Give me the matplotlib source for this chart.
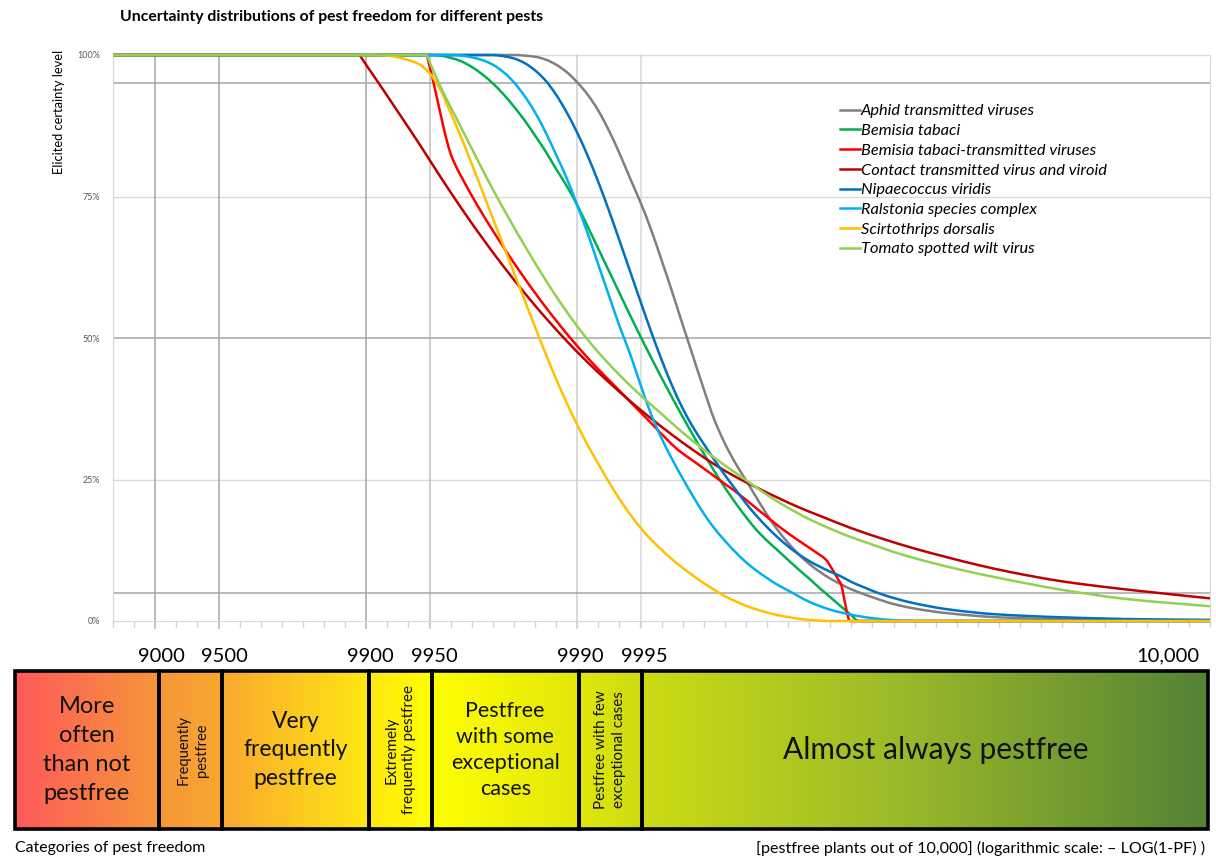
import numpy as np
import matplotlib
matplotlib.use("Agg")
import matplotlib.pyplot as plt
from matplotlib.patches import Rectangle, PathPatch
from matplotlib.path import Path
from matplotlib.lines import Line2D
from matplotlib.colors import to_rgb
from matplotlib.transforms import blended_transform_factory

plt.rcParams['font.family'] = ['Lato', 'DejaVu Sans']

# x values: decades of -log10(1 - PF); y values: elicited certainty in percent
aphid_x = [0.8, 2.70, 2.80, 2.85, 2.90, 2.95, 3.00, 3.05, 3.10, 3.15, 3.20, 3.25, 3.30, 3.35, 3.40,
           3.45, 3.50, 3.55, 3.60, 3.65, 3.70, 3.75, 3.80, 3.85, 3.90, 3.95, 4.00, 4.05, 4.10, 4.15,
           4.20, 4.30, 4.40, 4.50, 4.60, 4.75, 5.00, 5.30, 6.0]
aphid_y = [100, 100, 99.7, 99.2, 98.3, 97.0, 95.2, 93.0, 90.2, 86.7, 82.7, 78.3, 74.0, 69.2, 63.8,
           58.2, 52.4, 46.7, 41.0, 35.6, 31.4, 27.9, 24.9, 21.8, 18.8, 16.1, 13.8, 11.8, 10.1, 8.7,
           7.5, 5.6, 4.2, 3.0, 2.2, 1.4, 0.65, 0.3, 0.1]

btabaci_x = [0.8, 2.30, 2.35, 2.40, 2.45, 2.50, 2.55, 2.60, 2.65, 2.70, 2.75, 2.80, 2.85, 2.90, 2.95,
             3.00, 3.05, 3.10, 3.15, 3.20, 3.25, 3.30, 3.35, 3.40, 3.45, 3.50, 3.55, 3.60, 3.65, 3.70,
             3.75, 3.80, 3.85, 3.90, 3.95, 4.00, 4.05, 4.10, 4.15, 4.20, 4.25, 4.30, 4.335, 6.0]
btabaci_y = [100, 100, 99.9, 99.5, 98.9, 97.9, 96.6, 95.0, 93.1, 90.9, 88.5, 85.8, 83.0, 79.9, 76.9,
             73.5, 69.7, 65.8, 61.9, 58.0, 54.1, 50.3, 46.6, 43.0, 39.5, 36.1, 32.8, 29.6, 26.5, 23.6,
             20.9, 18.4, 16.1, 14.2, 12.5, 10.8, 9.1, 7.5, 5.8, 4.2, 2.6, 1.0, 0, 0]

btv_x = [0.8, 2.287, 2.292, 2.32, 2.35, 2.38, 2.40, 2.43, 2.46, 2.50, 2.55, 2.60, 2.65, 2.70, 2.75,
         2.80, 2.85, 2.90, 2.95, 3.00, 3.05, 3.10, 3.15, 3.20, 3.25, 3.30, 3.35, 3.42, 3.476, 3.55,
         3.65, 3.705, 3.75, 3.85, 3.91, 3.957, 4.05, 4.13, 4.18, 4.21, 4.24, 4.25, 4.27, 4.288, 4.29, 6.0]
btv_y = [100, 100, 99.3, 95.0, 90.0, 85.2, 82.6, 80.0, 77.9, 75.2, 72.0, 69.0, 66.1, 63.3, 60.6,
         58.0, 55.5, 53.1, 50.8, 48.6, 46.5, 44.5, 42.6, 40.7, 38.8, 36.9, 35.0, 32.3, 30.3, 28.3,
         25.6, 24.1, 22.9, 19.9, 18.1, 16.7, 14.2, 12.2, 10.8, 9.1, 7.2, 6.6, 3.2, 0.2, 0, 0]

contact_x = [0.8, 1.969, 1.975, 2.06, 2.15, 2.25, 2.35, 2.45, 2.55, 2.65, 2.75, 2.85, 2.95, 3.05,
             3.15, 3.25, 3.35, 3.45, 3.55, 3.65, 3.75, 3.85, 3.95, 4.05, 4.15, 4.30, 4.45, 4.60,
             4.75, 4.90, 5.06, 5.30, 5.55, 5.77, 6.0]
contact_y = [100, 100, 99.65, 95.0, 90.0, 84.4, 78.6, 73.0, 67.7, 62.7, 58.0, 53.6, 49.5, 45.7,
             42.2, 38.9, 35.8, 32.9, 30.2, 27.7, 25.5, 23.6, 21.8, 20.1, 18.6, 16.4, 14.5, 12.8,
             11.3, 9.9, 8.6, 7.0, 5.8, 4.9, 4.0]

nipa_x = [0.8, 2.60, 2.65, 2.70, 2.75, 2.80, 2.85, 2.90, 2.95, 3.00, 3.05, 3.10, 3.15, 3.20, 3.25,
          3.30, 3.35, 3.40, 3.45, 3.50, 3.55, 3.60, 3.65, 3.70, 3.75, 3.80, 3.85, 3.90, 3.95, 4.00,
          4.05, 4.10, 4.15, 4.20, 4.25, 4.30, 4.37, 4.43, 4.526, 4.59, 4.75, 4.98, 5.30, 5.69, 6.0]
nipa_y = [100, 100, 99.8, 99.4, 98.6, 97.3, 95.5, 93.0, 89.9, 86.3, 82.2, 77.6, 72.6, 67.3, 61.9,
          56.5, 51.2, 46.2, 41.6, 37.6, 34.2, 31.3, 28.5, 25.8, 23.3, 20.8, 18.6, 16.6, 14.8, 13.2,
          11.8, 10.6, 9.6, 8.7, 7.9, 6.9, 5.8, 4.9, 3.8, 3.2, 2.1, 1.2, 0.65, 0.3, 0.2]

ralstonia_x = [0.8, 2.40, 2.45, 2.50, 2.55, 2.60, 2.65, 2.70, 2.75, 2.80, 2.85, 2.90, 2.95, 3.00,
               3.05, 3.10, 3.15, 3.20, 3.25, 3.30, 3.35, 3.40, 3.45, 3.50, 3.55, 3.60, 3.65, 3.70,
               3.75, 3.80, 3.85, 3.90, 3.95, 4.00, 4.10, 4.20, 4.30, 4.40, 4.50, 4.60, 6.0]
ralstonia_y = [100, 100, 99.9, 99.6, 99.1, 98.3, 97.0, 95.2, 92.8, 89.9, 86.4, 82.4, 78.3, 73.5,
               68.5, 63.0, 57.6, 52.2, 47.3, 41.8, 36.6, 32.3, 28.6, 25.2, 22.0, 19.0, 16.4, 14.2,
               12.2, 10.4, 8.9, 7.6, 6.4, 5.4, 3.4, 2.0, 1.1, 0.5, 0.15, 0, 0]

scirto_x = [0.8, 2.05, 2.10, 2.15, 2.20, 2.25, 2.30, 2.35, 2.40, 2.45, 2.50, 2.55, 2.60, 2.65, 2.70,
            2.75, 2.80, 2.85, 2.90, 2.95, 3.00, 3.05, 3.10, 3.15, 3.20, 3.25, 3.30, 3.35, 3.40, 3.45,
            3.50, 3.55, 3.60, 3.65, 3.70, 3.75, 3.80, 3.85, 3.90, 3.95, 4.00, 4.05, 4.10, 4.15, 4.20, 6.0]
scirto_y = [100, 100, 99.9, 99.6, 99.1, 98.4, 96.8, 94.0, 89.8, 85.5, 80.8, 76.0, 71.2, 66.4, 61.6,
            56.8, 52.0, 47.3, 42.8, 38.6, 34.7, 31.1, 27.8, 24.6, 21.6, 18.9, 16.5, 14.4, 12.6, 10.9,
            9.4, 8.0, 6.7, 5.5, 4.4, 3.5, 2.7, 2.05, 1.5, 1.05, 0.7, 0.4, 0.2, 0.07, 0, 0]

tswv_x = [0.8, 2.287, 2.292, 2.35, 2.45, 2.60, 2.75, 2.90, 3.00, 3.10, 3.20, 3.30, 3.40, 3.50, 3.60,
          3.70, 3.80, 3.90, 4.00, 4.10, 4.20, 4.30, 4.40, 4.50, 4.60, 4.80, 5.00, 5.30, 5.60, 6.0]
tswv_y = [100, 100, 99.55, 94.6, 87.2, 76.3, 66.4, 57.4, 52.1, 47.5, 43.5, 39.9, 36.6, 33.3, 30.3,
          27.5, 24.9, 22.3, 20.0, 18.0, 16.3, 14.8, 13.5, 12.2, 11.1, 9.2, 7.6, 5.5, 3.9, 2.6]

pest_names = ["Aphid transmitted viruses", "Bemisia tabaci", "Bemisia tabaci-transmitted viruses",
              "Contact transmitted virus and viroid", "Nipaecoccus viridis", "Ralstonia species complex",
              "Scirtothrips dorsalis", "Tomato spotted wilt virus"]
pest_colors = ["#808080", "#00B050", "#FF0000", "#C00000", "#0070C0", "#00B0F0", "#FFC000", "#92D050"]
pest_series = [(aphid_x, aphid_y), (btabaci_x, btabaci_y), (btv_x, btv_y), (contact_x, contact_y),
               (nipa_x, nipa_y), (ralstonia_x, ralstonia_y), (scirto_x, scirto_y), (tswv_x, tswv_y)]

# pest-freedom category limits (pestfree plants out of 10,000)
category_limits = [9000, 9500, 9900, 9950, 9990, 9995]
limit_labels = ["9000", "9500", "9900", "9950", "9990", "9995"]
category_labels = ["More\noften\nthan not\npestfree", "Frequently\npestfree", "Very\nfrequently\npestfree",
                   "Extremely\nfrequently pestfree", "Pestfree\nwith some\nexceptional\ncases",
                   "Pestfree with few\nexceptional cases", "Almost always pestfree"]

W, H = 1216, 864
fig = plt.figure(figsize=(W / 100, H / 100), dpi=100)
fig.patch.set_facecolor("white")


def fx(px):
    return px / W


def fy(py):
    return 1 - py / H


def smooth_path(xs, ys):
    """Shape-preserving cubic Bezier path through the given points (monotone in x)."""
    x = np.asarray(xs, float)
    y = np.asarray(ys, float)
    h = np.diff(x)
    d = np.diff(y) / h
    m = np.zeros_like(x)
    m[0], m[-1] = d[0], d[-1]
    for k in range(1, len(x) - 1):
        if d[k - 1] * d[k] > 0:
            w1 = 2 * h[k] + h[k - 1]
            w2 = h[k] + 2 * h[k - 1]
            m[k] = (w1 + w2) / (w1 / d[k - 1] + w2 / d[k])
    verts = [(x[0], y[0])]
    codes = [Path.MOVETO]
    for k in range(len(x) - 1):
        verts += [(x[k] + h[k] / 3, y[k] + m[k] * h[k] / 3),
                  (x[k + 1] - h[k] / 3, y[k + 1] - m[k + 1] * h[k] / 3),
                  (x[k + 1], y[k + 1])]
        codes += [Path.CURVE4] * 3
    return Path(verts, codes)


XMIN, XMAX = 0.8, 6.0
limits_dec = [-np.log10(1 - n / 10000) for n in category_limits]

# ---------------- main chart ----------------
ax = fig.add_axes([fx(113), fy(621), fx(1210) - fx(113), fy(55) - fy(621)])
ax.set_xlim(XMIN, XMAX)
ax.set_ylim(0, 100)

for yv in (25, 75, 100):
    ax.axhline(yv, color="#d9d9d9", lw=1.0, zorder=1)
for yv in (5, 50, 95):
    ax.axhline(yv, color="#a6a6a6", lw=1.1, zorder=1.2)

vcolors = ["#a6a6a6", "#a6a6a6", "#a6a6a6", "#bfbfbf", "#cfcfcf", "#d9d9d9"]
for xv, c in zip(limits_dec, vcolors):
    ax.plot([xv, xv], [-1.3, 100], color=c, lw=1.1, clip_on=False, zorder=1.1)

handles = []
for (xs, ys), c, name in zip(pest_series, pest_colors, pest_names):
    ax.add_patch(PathPatch(smooth_path(xs, ys), fill=False, edgecolor=c, lw=1.8,
                           clip_on=False, zorder=3, joinstyle="round", capstyle="butt"))
    handles.append(Line2D([], [], color=c, lw=1.8, label=name))

for side in ("left", "bottom", "right"):
    ax.spines[side].set_color("#d9d9d9")
ax.spines["top"].set_visible(False)

ax.set_xticks([])
ax.set_xticks(np.round(np.arange(8, 61) / 10, 1), minor=True)
ax.tick_params(axis="x", which="minor", direction="out", length=4, color="#d0d0d0", width=1)
ax.set_yticks([0, 25, 50, 75, 100])
ax.set_yticklabels(["0%", "25%", "50%", "75%", "100%"])
ax.tick_params(axis="y", length=0, pad=9, labelsize=6.5, labelcolor="#595959")

fig.text(fx(120), fy(17), "Uncertainty distributions of pest freedom for different pests",
         fontsize=11.3, fontweight="bold", va="center", ha="left")
fig.text(fx(59), fy(112), "Elicited certainty level", rotation=90, fontsize=9.3,
         va="center", ha="center")

fig.legend(handles=handles, loc="upper left", bbox_to_anchor=(fx(840), fy(104)), frameon=False,
           prop={"style": "italic", "size": 11.8}, handlelength=1.2, handletextpad=0.08,
           labelspacing=0.32, borderpad=0, borderaxespad=0)

# ---------------- category band ----------------
bx = fig.add_axes([fx(15), fy(829), fx(1208) - fx(15), fy(671) - fy(829)])
BMIN, BMAX = 0.314, 6.0
bx.set_xlim(BMIN, BMAX)
bx.set_ylim(0, 1)
bx.axis("off")

stop_pos = [0.314, 1.0, 1.301, 2.0, 2.3, 3.0, 3.3, 4.5, 6.0]
stop_col = ["#FF5A5A", "#F5963A", "#F9A82F", "#FFE812", "#FFFF00", "#E2E70A", "#CCDB13", "#9CBB29", "#548235"]
gx = np.linspace(BMIN, BMAX, 1200)
rgb = np.array([to_rgb(c) for c in stop_col])
grad = np.stack([np.interp(gx, stop_pos, rgb[:, k]) for k in range(3)], axis=-1)[None, :, :]
bx.imshow(grad, extent=[BMIN, BMAX, 0, 1], aspect="auto", interpolation="bilinear", zorder=1)

edges = [BMIN] + limits_dec + [BMAX]
label_sizes = [17, 10.5, 16.5, 11, 15.5, 11, 21.5]
rotated = [False, True, False, True, False, True, False]
spacing = [1.47, 1.45, 1.45, 1.3, 1.39, 1.37, 1.2]
x_shift = [0, 0.01, 0, 0, 0, 0, 0.05]
for i, lab in enumerate(category_labels):
    x0, x1 = edges[i], edges[i + 1]
    bx.add_patch(Rectangle((x0, 0), x1 - x0, 1, fill=False, edgecolor="black", lw=2.6,
                           clip_on=False, zorder=3))
    bx.text((x0 + x1) / 2 + x_shift[i], 0.5, lab, ha="center", va="center", multialignment="center",
            fontsize=label_sizes[i], rotation=90 if rotated[i] else 0, linespacing=spacing[i],
            color="#111111", zorder=4)

trans = blended_transform_factory(bx.transData, bx.transAxes)
num_y = (829 - 656) / (829 - 671)
for xv, lab in zip(limits_dec, limit_labels):
    bx.text(xv + 0.01, num_y, lab, transform=trans, ha="center", va="center", fontsize=14.5)
bx.text(5.81, num_y, "10,000", transform=trans, ha="center", va="center", fontsize=14.5)

fig.text(fx(15), fy(848), "Categories of pest freedom", fontsize=11.4, va="center", ha="left")
fig.text(fx(1205), fy(848), "[pestfree plants out of 10,000] (logarithmic scale: \u2013 LOG(1-PF) )",
         fontsize=11.6, va="center", ha="right")

fig.savefig("out.png", dpi=100)
